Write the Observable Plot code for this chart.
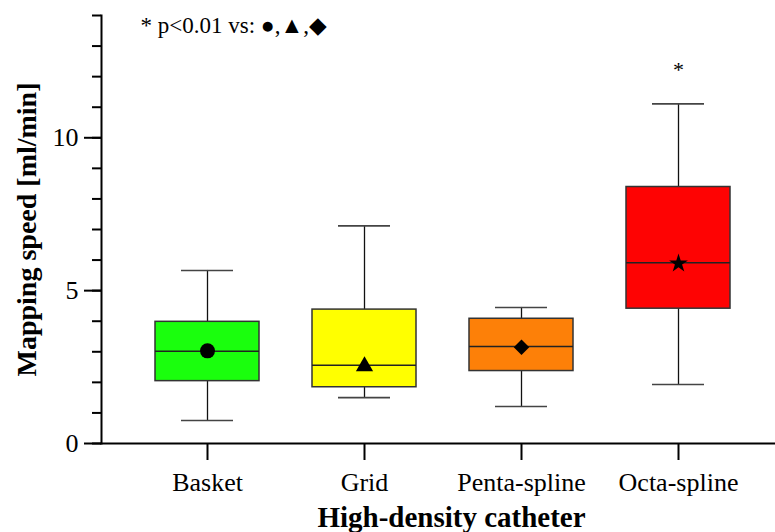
<!DOCTYPE html>
<html>
<head>
<meta charset="utf-8">
<script src="https://cdn.jsdelivr.net/npm/d3@7"></script>
<script src="https://cdn.jsdelivr.net/npm/@observablehq/plot@0.6"></script>
<style>
  html, body { margin: 0; padding: 0; background: white; }
</style>
</head>
<body>
<div id="chart"></div>
<script>
const categories = ["Basket", "Grid", "Penta-spline", "Octa-spline"];
const whiskerLow = [0.75, 1.50, 1.21, 1.93];
const q1 = [2.04, 1.84, 2.37, 4.41];
const median = [3.02, 2.56, 3.17, 5.91];
const q3 = [3.98, 4.38, 4.08, 8.39];
const whiskerHigh = [5.66, 7.12, 4.45, 11.11];
const means = [3.03, 2.53, 3.15, 5.89];
const boxColors = ["#1aff0d", "#ffff00", "#fd8008", "#fe0303"];
const meanSymbols = ["circle", "triangle", "diamond2", "star"];
const significance = ["", "", "", "*"];
const annotation = "* p<0.01 vs: \u25CF,\u25B2,\u25C6";
const yMajorTicks = [0, 5, 10];
const yMinorTicks = [0, 1, 2, 3, 4, 5, 6, 7, 8, 9, 10, 11, 12, 13, 14];
const yTitle = "Mapping speed [ml/min]";
const xTitle = "High-density catheter";

const rows = categories.map((c, i) => ({
  cat: c, low: whiskerLow[i], q1: q1[i], med: median[i], q3: q3[i],
  high: whiskerHigh[i], mean: means[i], color: boxColors[i],
  symbol: meanSymbols[i], sig: significance[i]
}));

const symbolRadius = {circle: 7.5, triangle: 6.4, diamond2: 7, star: 5.9};

const font = "'Liberation Serif', 'Times New Roman', serif";

const chart = Plot.plot({
  width: 775,
  height: 532,
  marginLeft: 101,
  marginRight: 0,
  marginTop: 15,
  marginBottom: 89,
  style: {fontFamily: font, background: "white", color: "black", overflow: "hidden"},
  x: {domain: categories, range: [101, 784], paddingInner: 0.34, paddingOuter: 0.336, label: null},
  y: {domain: [0, 14], label: null},
  color: {type: "identity"},
  marks: [
    Plot.ruleX(rows, {x: "cat", y1: "low", y2: "q1", stroke: "#111", strokeWidth: 1.3}),
    Plot.ruleX(rows, {x: "cat", y1: "q3", y2: "high", stroke: "#111", strokeWidth: 1.3}),
    Plot.tickY(rows, {x: "cat", y: "low", insetLeft: 26, insetRight: 26, stroke: "#444", strokeWidth: 1.6}),
    Plot.tickY(rows, {x: "cat", y: "high", insetLeft: 26, insetRight: 26, stroke: "#444", strokeWidth: 1.6}),
    Plot.barY(rows, {x: "cat", y1: "q1", y2: "q3", fill: "color", stroke: "#333", strokeWidth: 1.5}),
    Plot.tickY(rows, {x: "cat", y: "med", stroke: "#222", strokeWidth: 1.5}),
    ...meanSymbols.map(s => Plot.dot(rows, {
      filter: d => d.symbol === s, x: "cat", y: "mean", symbol: "symbol",
      r: symbolRadius[s], fill: "black", stroke: "none"
    })),
    Plot.text(rows, {x: "cat", y: "high", text: "sig", dy: -27, lineAnchor: "bottom", fontSize: 22, fill: "black"}),
    Plot.axisY({ticks: yMinorTicks, tickSize: 9, tickFormat: () => "", strokeWidth: 2, label: null}),
    Plot.axisY({ticks: yMajorTicks, tickSize: 17, tickPadding: 6, fontSize: 26, strokeWidth: 2, label: null}),
    Plot.axisX({tickSize: 17, tickPadding: 12, fontSize: 26, strokeWidth: 2, label: null}),
    Plot.frame({anchor: "left", strokeWidth: 2}),
    Plot.frame({anchor: "bottom", strokeWidth: 2}),
    Plot.text([annotation], {frameAnchor: "top-left", text: d => d, dx: 39, dy: 17, lineAnchor: "bottom", textAnchor: "start", fontSize: 23, fill: "black"}),
    Plot.text([yTitle], {frameAnchor: "left", text: d => d, dx: -74, rotate: -90, textAnchor: "middle", lineAnchor: "middle", fontSize: 28, fontWeight: "bold", fill: "black"}),
    Plot.text([xTitle], {frameAnchor: "bottom", text: d => d, dx: 13, dy: 83, textAnchor: "middle", lineAnchor: "bottom", fontSize: 29, fontWeight: "bold", fill: "black"})
  ]
});

document.getElementById("chart").appendChild(chart);
</script>
</body>
</html>
